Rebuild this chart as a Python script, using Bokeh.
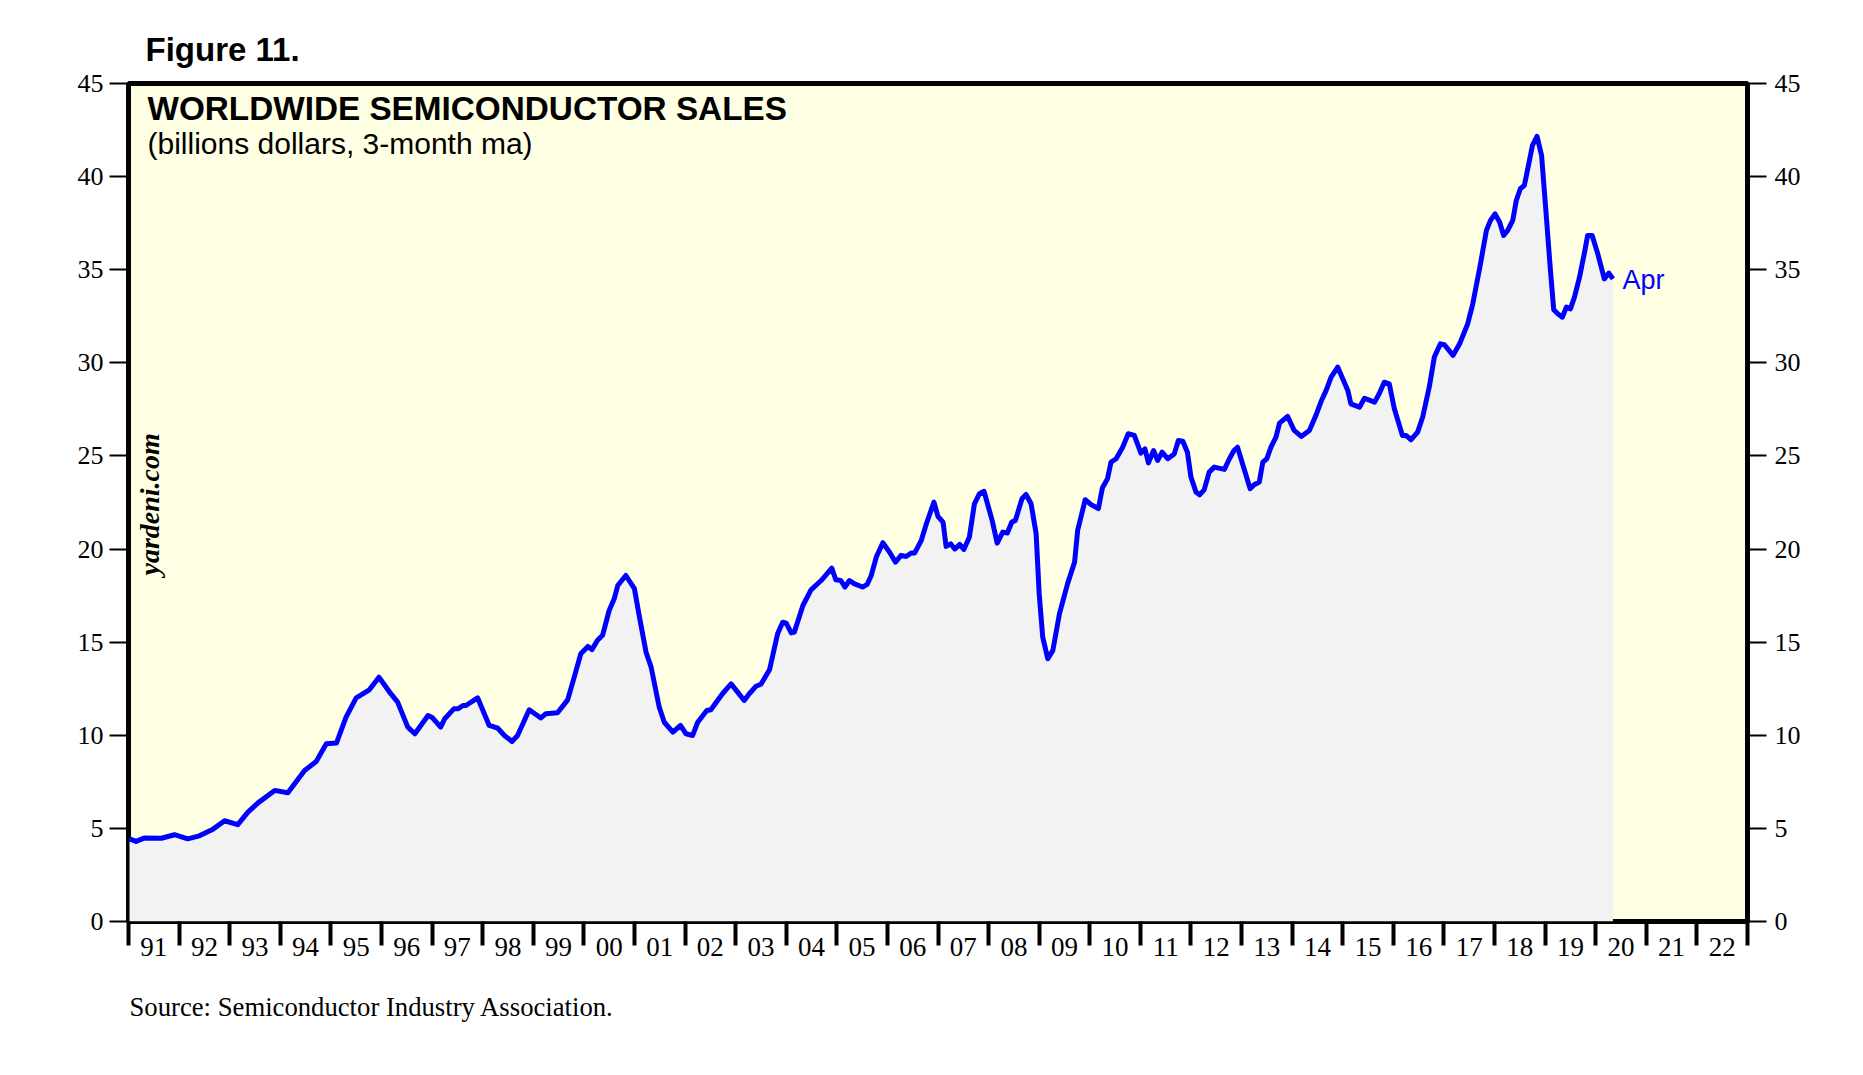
from math import pi
from bokeh.plotting import figure
from bokeh.models import ColumnDataSource, FixedTicker, LinearAxis, Label, Range1d, Title
from bokeh.embed import file_html
from bokeh.resources import INLINE

# ---- data ----
years = [
    1991.02, 1991.15, 1991.32, 1991.65, 1991.91, 1992.17, 1992.40, 1992.67, 1992.90, 1993.16,
    1993.36, 1993.56, 1993.89, 1994.15, 1994.48, 1994.71, 1994.91, 1995.11, 1995.30, 1995.50,
    1995.76, 1995.95, 1996.16, 1996.32, 1996.52, 1996.66, 1996.92, 1997.01, 1997.17, 1997.25,
    1997.43, 1997.51, 1997.61, 1997.67, 1997.90, 1998.13, 1998.30, 1998.43, 1998.58, 1998.69,
    1998.92, 1999.15, 1999.25, 1999.48, 1999.68, 1999.81, 1999.94, 2000.08, 2000.16, 2000.27,
    2000.37, 2000.50, 2000.60, 2000.67, 2000.83, 2001.00, 2001.10, 2001.23, 2001.33, 2001.49,
    2001.59, 2001.76, 2001.91, 2002.02, 2002.15, 2002.25, 2002.43, 2002.51, 2002.74, 2002.91,
    2003.04, 2003.17, 2003.27, 2003.40, 2003.50, 2003.67, 2003.83, 2003.93, 2004.00, 2004.10,
    2004.16, 2004.33, 2004.49, 2004.69, 2004.90, 2004.98, 2005.08, 2005.16, 2005.25, 2005.35,
    2005.51, 2005.60, 2005.68, 2005.78, 2005.91, 2006.04, 2006.16, 2006.27, 2006.37, 2006.47,
    2006.54, 2006.67, 2006.77, 2006.92, 2007.00, 2007.10, 2007.16, 2007.25, 2007.33, 2007.43,
    2007.51, 2007.62, 2007.72, 2007.82, 2007.91, 2008.07, 2008.17, 2008.28, 2008.37, 2008.46,
    2008.53, 2008.66, 2008.74, 2008.84, 2008.94, 2009.00, 2009.07, 2009.17, 2009.27, 2009.40,
    2009.56, 2009.70, 2009.76, 2009.91, 2010.02, 2010.17, 2010.25, 2010.35, 2010.42, 2010.52,
    2010.65, 2010.76, 2010.88, 2011.01, 2011.09, 2011.16, 2011.26, 2011.34, 2011.43, 2011.54,
    2011.67, 2011.75, 2011.84, 2011.93, 2012.00, 2012.10, 2012.17, 2012.26, 2012.36, 2012.46,
    2012.66, 2012.76, 2012.85, 2012.92, 2013.06, 2013.17, 2013.25, 2013.35, 2013.42, 2013.50,
    2013.58, 2013.68, 2013.75, 2013.91, 2014.04, 2014.18, 2014.34, 2014.47, 2014.58, 2014.67,
    2014.77, 2014.90, 2015.10, 2015.16, 2015.33, 2015.43, 2015.63, 2015.72, 2015.82, 2015.92,
    2016.02, 2016.12, 2016.18, 2016.25, 2016.35, 2016.48, 2016.58, 2016.71, 2016.81, 2016.93,
    2017.01, 2017.18, 2017.31, 2017.47, 2017.57, 2017.71, 2017.84, 2017.92, 2018.01, 2018.10,
    2018.18, 2018.26, 2018.36, 2018.43, 2018.51, 2018.59, 2018.67, 2018.75, 2018.84, 2018.93,
    2019.02, 2019.10, 2019.17, 2019.25, 2019.34, 2019.42, 2019.50, 2019.58, 2019.68, 2019.78,
    2019.84, 2019.93, 2020.04, 2020.17, 2020.26, 2020.34,
]
sales = [
    4.44, 4.30, 4.49, 4.47, 4.66, 4.44, 4.60, 4.96, 5.41, 5.20,
    5.87, 6.37, 7.04, 6.91, 8.11, 8.59, 9.54, 9.58, 10.97, 12.01,
    12.44, 13.12, 12.32, 11.78, 10.44, 10.08, 11.06, 10.94, 10.44, 10.89,
    11.42, 11.42, 11.60, 11.60, 12.01, 10.53, 10.38, 9.99, 9.67, 9.99,
    11.37, 10.93, 11.16, 11.21, 11.90, 13.12, 14.38, 14.77, 14.60, 15.10,
    15.37, 16.70, 17.33, 18.04, 18.58, 17.87, 16.34, 14.46, 13.66, 11.51,
    10.70, 10.17, 10.53, 10.08, 9.99, 10.70, 11.33, 11.37, 12.23, 12.76,
    12.32, 11.87, 12.23, 12.63, 12.74, 13.52, 15.45, 16.07, 16.02, 15.50,
    15.54, 16.97, 17.81, 18.31, 18.98, 18.35, 18.31, 17.96, 18.31, 18.13,
    17.96, 18.10, 18.58, 19.57, 20.34, 19.84, 19.30, 19.66, 19.60, 19.79,
    19.79, 20.47, 21.36, 22.52, 21.75, 21.45, 20.14, 20.28, 20.00, 20.25,
    19.98, 20.64, 22.43, 22.97, 23.10, 21.54, 20.32, 20.91, 20.86, 21.45,
    21.54, 22.70, 22.93, 22.43, 20.82, 17.60, 15.27, 14.11, 14.56, 16.52,
    18.13, 19.30, 21.00, 22.65, 22.40, 22.17, 23.29, 23.77, 24.67, 24.85,
    25.47, 26.19, 26.10, 25.15, 25.38, 24.63, 25.29, 24.76, 25.20, 24.85,
    25.11, 25.83, 25.79, 25.20, 23.86, 23.06, 22.91, 23.18, 24.13, 24.40,
    24.28, 24.85, 25.29, 25.47, 24.22, 23.24, 23.45, 23.60, 24.67, 24.85,
    25.47, 26.01, 26.76, 27.13, 26.37, 26.05, 26.37, 27.18, 27.98, 28.51,
    29.23, 29.77, 28.52, 27.80, 27.62, 28.10, 27.89, 28.34, 28.96, 28.87,
    27.53, 26.64, 26.10, 26.10, 25.87, 26.28, 27.09, 28.70, 30.31, 31.02,
    30.97, 30.40, 31.02, 32.10, 33.17, 35.14, 37.11, 37.65, 38.00, 37.56,
    36.84, 37.11, 37.65, 38.72, 39.35, 39.53, 40.60, 41.68, 42.16, 41.14,
    38.00, 35.14, 32.85, 32.63, 32.45, 32.99, 32.90, 33.53, 34.60, 35.95,
    36.84, 36.84, 35.86, 34.51, 34.82, 34.51,
]
year_starts = list(range(1991, 2024))
year_labels = ["91", "92", "93", "94", "95", "96", "97", "98", "99", "00", "01",
               "02", "03", "04", "05", "06", "07", "08", "09", "10", "11", "12",
               "13", "14", "15", "16", "17", "18", "19", "20", "21", "22"]
y_ticks = [0, 5, 10, 15, 20, 25, 30, 35, 40, 45]

SERIF = "Liberation Serif"
SANS = "Liberation Sans"

src = ColumnDataSource(dict(t=years, v=sales))

p = figure(width=1847, height=1058,
           x_range=Range1d(1991, 2023), y_range=Range1d(0, 45),
           output_backend="svg", toolbar_location=None,
           min_border_left=128, min_border_right=100,
           min_border_top=83, min_border_bottom=137,
           background_fill_color="#FFFFE3", border_fill_color="white")
p.xgrid.visible = False
p.ygrid.visible = False
p.outline_line_color = "black"
p.outline_line_width = 5

p.varea(x="t", y1=0, y2="v", source=src, fill_color="#F2F2F2")
p.line(x="t", y="v", source=src, line_color="#0000FF", line_width=5,
       line_join="round")

# bottom axis: labels centred in each year, ticks at year boundaries
mids = [y + 0.5 for y in year_starts[:-1]]
xax = p.xaxis[0]
xax.ticker = FixedTicker(ticks=mids, minor_ticks=year_starts)
xax.major_label_overrides = {m: lab for m, lab in zip(mids, year_labels)}
xax.major_tick_out = 0
xax.major_tick_in = 0
xax.minor_tick_out = 24
xax.minor_tick_in = 0
xax.minor_tick_line_width = 4
xax.minor_tick_line_color = "black"
xax.axis_line_color = None
xax.major_label_text_font = SERIF
xax.major_label_text_font_size = "27px"
xax.major_label_text_color = "black"
xax.major_label_standoff = -8

def style_y(ax, standoff):
    ax.ticker = FixedTicker(ticks=y_ticks)
    ax.axis_line_color = None
    ax.major_tick_out = 19
    ax.major_tick_in = 0
    ax.major_tick_line_width = 2
    ax.major_tick_line_color = "black"
    ax.minor_tick_line_color = None
    ax.major_label_text_font = SERIF
    ax.major_label_text_font_size = "26px"
    ax.major_label_text_color = "black"
    ax.major_label_standoff = standoff

style_y(p.yaxis[0], 6)
rax = LinearAxis()
style_y(rax, 8)
p.add_layout(rax, "right")

# header and footer
p.title.text = "Figure 11."
p.title.align = "left"
p.title.offset = 17
p.title.standoff = 32
p.title.text_font = SANS
p.title.text_font_style = "bold"
p.title.text_font_size = "33px"
p.title.text_color = "black"

p.add_layout(Title(text="Source: Semiconductor Industry Association.", align="left",
                   offset=1, standoff=62, text_font=SERIF, text_font_style="normal",
                   text_font_size="26.7px", text_color="black"), "below")

# texts inside the frame
p.add_layout(Label(x=1991.375, y=43.65, text="WORLDWIDE SEMICONDUCTOR SALES",
                   text_font=SANS, text_font_style="bold", text_font_size="33.3px",
                   text_color="black", text_baseline="alphabetic"))
p.add_layout(Label(x=1991.375, y=41.8, text="(billions dollars, 3-month ma)",
                   text_font=SANS, text_font_size="30px",
                   text_color="black", text_baseline="alphabetic"))
p.add_layout(Label(x=1991.41, y=18.58, text="yardeni.com", angle=pi / 2,
                   text_font=SERIF, text_font_style="bold italic",
                   text_font_size="28px", text_color="black",
                   text_align="left", text_baseline="alphabetic"))
p.add_layout(Label(x=2020.53, y=34.45, text="Apr", text_font=SANS,
                   text_font_size="27px", text_color="#0000FF",
                   text_baseline="alphabetic"))

open("out.html", "w").write(file_html(p, INLINE))
